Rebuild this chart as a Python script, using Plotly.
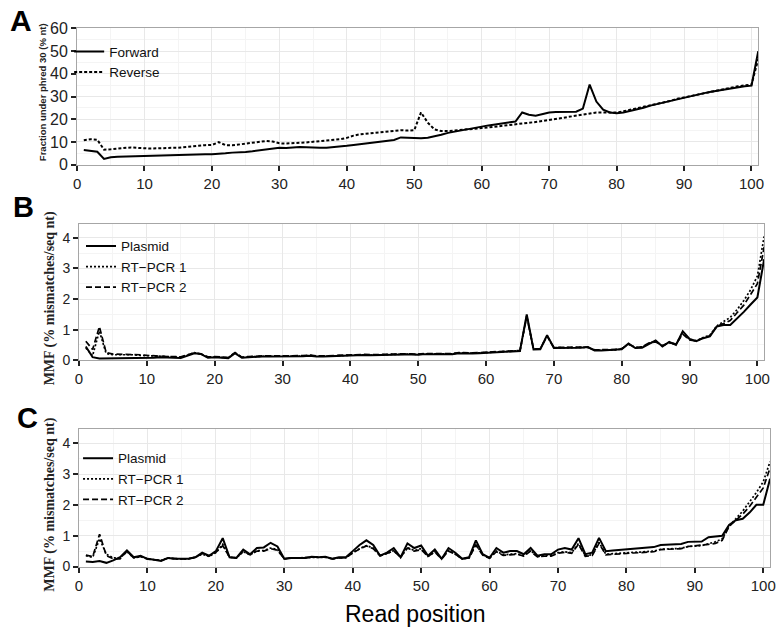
import plotly.graph_objects as go

pos = list(range(1, 102))

# Panel A: fraction under phred 30 (% nt)
forward = [6.5, 6.0, 5.7, 2.5, 3.3, 3.5, 3.6, 3.7, 3.8, 3.9,
           4.0, 4.1, 4.2, 4.3, 4.4, 4.6, 4.7, 4.7, 4.6, 4.6,
           4.7, 5.0, 5.3, 5.3, 5.6, 5.9, 6.2, 6.6, 7.0, 7.4,
           7.3, 7.6, 7.8, 7.7, 7.4, 7.4, 7.5, 7.7, 7.9, 8.3,
           8.7, 9.1, 9.4, 9.7, 10.0, 10.4, 10.9, 12.0, 11.8, 11.6,
           11.6, 11.9, 12.4, 13.2, 14.0, 14.6, 15.2, 15.7, 16.3, 16.9,
           17.3, 17.7, 18.1, 18.5, 19.0, 23.0, 22.0, 21.6, 22.3, 23.0,
           23.2, 23.2, 23.2, 23.3, 24.7, 35.3, 27.8, 24.2, 23.0, 22.6,
           23.0, 23.6, 24.3, 25.1, 26.0, 26.7, 27.3, 28.0, 29.0, 29.7,
           30.1, 30.8, 31.5, 32.1, 32.6, 33.2, 33.7, 34.1, 34.5, 34.8, 50.0]
reverse = [10.8, 11.2, 11.0, 6.6, 6.8, 7.1, 7.4, 7.6, 7.4, 7.2,
           7.1, 7.2, 7.4, 7.4, 7.4, 7.6, 8.0, 8.3, 8.6, 8.7,
           9.9, 8.6, 8.5, 8.9, 9.3, 9.7, 10.0, 10.4, 10.2, 9.4,
           9.3, 9.4, 9.6, 9.8, 10.1, 10.3, 10.5, 10.9, 11.2, 11.8,
           12.8, 13.4, 13.7, 13.8, 14.0, 14.3, 14.7, 15.2, 15.0, 15.2,
           23.0, 18.5, 15.5, 14.8, 14.8, 15.0, 15.3, 15.6, 15.8, 16.1,
           16.4, 16.7, 17.0, 17.3, 17.6, 18.0, 18.4, 18.8, 19.2, 19.7,
           20.1, 20.6, 21.0, 21.5, 21.9, 22.6, 23.0, 23.0, 23.0, 23.0,
           23.5, 24.0, 24.8, 25.5, 26.1, 26.8, 27.5, 28.1, 29.0, 29.6,
           30.2, 30.9, 31.6, 32.3, 32.9, 33.5, 34.1, 34.5, 34.9, 35.3, 46.5]

# Panel B: MMF
b_plasmid = [0.45, 0.10, 0.06, 0.06, 0.06, 0.06, 0.07, 0.07, 0.07, 0.08,
             0.08, 0.10, 0.10, 0.08, 0.07, 0.15, 0.23, 0.20, 0.08, 0.10,
             0.08, 0.07, 0.23, 0.08, 0.10, 0.12, 0.12, 0.12, 0.12, 0.12,
             0.13, 0.13, 0.13, 0.15, 0.12, 0.12, 0.13, 0.13, 0.14, 0.15,
             0.17, 0.17, 0.16, 0.17, 0.18, 0.18, 0.19, 0.19, 0.19, 0.18,
             0.20, 0.20, 0.20, 0.19, 0.20, 0.23, 0.22, 0.22, 0.23, 0.24,
             0.25, 0.26, 0.27, 0.28, 0.30, 1.50, 0.35, 0.36, 0.82, 0.40,
             0.40, 0.40, 0.41, 0.41, 0.43, 0.32, 0.32, 0.33, 0.33, 0.36,
             0.55, 0.40, 0.41, 0.52, 0.65, 0.45, 0.60, 0.50, 0.95, 0.70,
             0.62, 0.72, 0.78, 1.10, 1.15, 1.15, 1.35, 1.58, 1.82, 2.05, 3.30]
b_rt1 = [0.40, 0.15, 0.95, 0.22, 0.18, 0.18, 0.20, 0.18, 0.16, 0.15,
         0.13, 0.12, 0.12, 0.11, 0.10, 0.17, 0.25, 0.20, 0.10, 0.11,
         0.09, 0.08, 0.24, 0.09, 0.11, 0.13, 0.13, 0.13, 0.13, 0.13,
         0.14, 0.14, 0.14, 0.16, 0.13, 0.13, 0.14, 0.14, 0.15, 0.16,
         0.18, 0.18, 0.17, 0.18, 0.19, 0.19, 0.20, 0.20, 0.20, 0.19,
         0.21, 0.21, 0.21, 0.20, 0.21, 0.24, 0.23, 0.23, 0.24, 0.25,
         0.26, 0.27, 0.28, 0.29, 0.31, 1.45, 0.36, 0.37, 0.80, 0.41,
         0.41, 0.40, 0.41, 0.41, 0.42, 0.33, 0.33, 0.34, 0.34, 0.37,
         0.53, 0.41, 0.43, 0.55, 0.62, 0.47, 0.58, 0.52, 0.90, 0.68,
         0.64, 0.74, 0.82, 1.12, 1.25, 1.40, 1.65, 1.95, 2.30, 2.75, 4.05]
b_rt2 = [0.62, 0.35, 1.10, 0.25, 0.20, 0.20, 0.20, 0.20, 0.18, 0.16,
         0.14, 0.13, 0.12, 0.12, 0.11, 0.18, 0.24, 0.21, 0.11, 0.12,
         0.10, 0.09, 0.25, 0.10, 0.12, 0.14, 0.14, 0.14, 0.14, 0.14,
         0.15, 0.15, 0.15, 0.17, 0.14, 0.14, 0.15, 0.15, 0.16, 0.17,
         0.19, 0.19, 0.18, 0.19, 0.20, 0.20, 0.21, 0.21, 0.21, 0.20,
         0.22, 0.22, 0.22, 0.21, 0.22, 0.25, 0.24, 0.24, 0.25, 0.26,
         0.27, 0.28, 0.29, 0.30, 0.32, 1.42, 0.37, 0.38, 0.78, 0.42,
         0.42, 0.41, 0.42, 0.42, 0.43, 0.34, 0.34, 0.35, 0.35, 0.38,
         0.52, 0.42, 0.44, 0.56, 0.60, 0.48, 0.57, 0.53, 0.85, 0.66,
         0.63, 0.73, 0.80, 1.10, 1.20, 1.30, 1.55, 1.80, 2.15, 2.50, 3.70]

# Panel C: MMF
c_plasmid = [0.16, 0.15, 0.18, 0.12, 0.20, 0.30, 0.52, 0.30, 0.35, 0.25,
             0.22, 0.18, 0.28, 0.25, 0.25, 0.25, 0.30, 0.45, 0.35, 0.50,
             0.92, 0.30, 0.28, 0.55, 0.40, 0.60, 0.62, 0.77, 0.65, 0.25,
             0.28, 0.28, 0.28, 0.32, 0.30, 0.32, 0.25, 0.30, 0.30, 0.50,
             0.70, 0.85, 0.70, 0.35, 0.45, 0.60, 0.30, 0.75, 0.60, 0.68,
             0.35, 0.55, 0.25, 0.60, 0.45, 0.25, 0.30, 0.85, 0.40, 0.28,
             0.60, 0.45, 0.50, 0.50, 0.40, 0.60, 0.35, 0.40, 0.40, 0.55,
             0.60, 0.55, 0.92, 0.40, 0.45, 0.93, 0.50, 0.52, 0.54, 0.57,
             0.59, 0.60, 0.62, 0.63, 0.70, 0.71, 0.72, 0.73, 0.80, 0.81,
             0.81, 0.95, 0.97, 1.00, 1.35, 1.50, 1.55, 1.75, 2.00, 2.00, 2.85]
c_rt1 = [0.35, 0.30, 0.90, 0.40, 0.28, 0.28, 0.48, 0.28, 0.32, 0.25,
         0.22, 0.20, 0.28, 0.25, 0.25, 0.25, 0.30, 0.40, 0.33, 0.45,
         0.72, 0.30, 0.28, 0.48, 0.38, 0.52, 0.52, 0.60, 0.55, 0.25,
         0.28, 0.28, 0.28, 0.30, 0.30, 0.30, 0.25, 0.28, 0.28, 0.45,
         0.58, 0.68, 0.60, 0.35, 0.42, 0.52, 0.30, 0.62, 0.52, 0.58,
         0.33, 0.48, 0.25, 0.52, 0.40, 0.25, 0.28, 0.72, 0.38, 0.28,
         0.50, 0.38, 0.40, 0.42, 0.35, 0.52, 0.32, 0.36, 0.36, 0.45,
         0.48, 0.45, 0.75, 0.35, 0.38, 0.78, 0.40, 0.42, 0.43, 0.45,
         0.46, 0.47, 0.49, 0.50, 0.56, 0.57, 0.58, 0.59, 0.65, 0.67,
         0.68, 0.74, 0.80, 0.90, 1.30, 1.55, 1.80, 2.10, 2.40, 2.75, 3.40]
c_rt2 = [0.37, 0.32, 1.05, 0.35, 0.25, 0.25, 0.50, 0.28, 0.33, 0.24,
         0.22, 0.20, 0.27, 0.25, 0.25, 0.25, 0.30, 0.42, 0.34, 0.46,
         0.68, 0.30, 0.28, 0.50, 0.38, 0.50, 0.50, 0.58, 0.53, 0.25,
         0.28, 0.28, 0.28, 0.31, 0.30, 0.31, 0.25, 0.28, 0.29, 0.44,
         0.57, 0.67, 0.58, 0.35, 0.42, 0.50, 0.30, 0.60, 0.50, 0.55,
         0.33, 0.47, 0.25, 0.50, 0.40, 0.25, 0.28, 0.70, 0.37, 0.27,
         0.48, 0.36, 0.38, 0.40, 0.34, 0.50, 0.31, 0.34, 0.34, 0.43,
         0.46, 0.43, 0.72, 0.33, 0.36, 0.75, 0.38, 0.40, 0.41, 0.43,
         0.44, 0.45, 0.47, 0.48, 0.55, 0.56, 0.57, 0.58, 0.65, 0.67,
         0.68, 0.72, 0.75, 0.85, 1.30, 1.50, 1.70, 1.95, 2.25, 2.55, 3.20]

x_ticks = [0, 10, 20, 30, 40, 50, 60, 70, 80, 90, 100]
a_yticks = [0, 10, 20, 30, 40, 50, 60]
bc_yticks = [0, 1, 2, 3, 4]

W, H = 783, 631
SANS = "Liberation Sans, Arial, sans-serif"
SERIF = "Liberation Serif, Times New Roman, serif"

fig = go.Figure()

def add(x, y, name, dash, xa, ya, legend, width=2):
    fig.add_trace(go.Scatter(x=x, y=y, name=name, mode="lines",
                             line=dict(color="black", width=width, dash=dash),
                             xaxis=xa, yaxis=ya, legend=legend))

add(pos, forward, "Forward", "solid", "x", "y", "legend")
add(pos, reverse, "Reverse", "3px,2px", "x", "y", "legend")
add(pos, b_plasmid, "Plasmid", "solid", "x2", "y2", "legend2")
add(pos, b_rt1, "RT\u2212PCR 1", "2px,2px", "x2", "y2", "legend2", 1.7)
add(pos, b_rt2, "RT\u2212PCR 2", "6px,3px", "x2", "y2", "legend2", 1.7)
add(pos, c_plasmid, "Plasmid", "solid", "x3", "y3", "legend3")
add(pos, c_rt1, "RT\u2212PCR 1", "2px,2px", "x3", "y3", "legend3", 1.7)
add(pos, c_rt2, "RT\u2212PCR 2", "6px,3px", "x3", "y3", "legend3", 1.7)

def px_dom_x(l, r):
    return [l / W, r / W]

def px_dom_y(top, bottom):
    return [1 - bottom / H, 1 - top / H]

def xax(dom, anchor):
    return dict(domain=dom, anchor=anchor, range=[0, 101], tickvals=x_ticks,
                showgrid=True, gridcolor="#e8e8e8", gridwidth=1,
                minor=dict(dtick=5, tick0=0, showgrid=True, gridcolor="#f4f4f4", gridwidth=1),
                showline=True, mirror=True, linecolor="#a6a6a6", linewidth=1,
                ticks="outside", ticklen=5, tickwidth=2, tickcolor="#222",
                tickfont=dict(family=SANS, size=15, color="#222"), zeroline=False)

def yax(dom, anchor, rng, tv, minor, fs):
    return dict(domain=dom, anchor=anchor, range=rng, tickvals=tv,
                showgrid=True, gridcolor="#e8e8e8", gridwidth=1,
                minor=dict(dtick=minor, tick0=0, showgrid=True, gridcolor="#f4f4f4", gridwidth=1),
                showline=True, mirror=True, linecolor="#a6a6a6", linewidth=1,
                ticks="outside", ticklen=5, tickwidth=2, tickcolor="#222",
                tickfont=dict(family=SANS, size=fs, color="#222"), zeroline=False)

legfont = dict(family=SANS, size=13.5, color="#111")

fig.update_layout(
    width=W, height=H, margin=dict(l=0, r=0, t=0, b=0),
    paper_bgcolor="white", plot_bgcolor="white",
    xaxis=xax(px_dom_x(74, 764), "y"),
    yaxis=yax(px_dom_y(21, 161), "x", [0, 60], a_yticks, 5, 16),
    xaxis2=xax(px_dom_x(76, 770), "y2"),
    yaxis2=yax(px_dom_y(222, 362), "x2", [0, 4.45], bc_yticks, 0.5, 14),
    xaxis3=xax(px_dom_x(76, 776), "y3"),
    yaxis3=yax(px_dom_y(433, 574), "x3", [0, 4.45], bc_yticks, 0.5, 14),
    legend=dict(x=66 / W, y=1 - 29 / H, xanchor="left", yanchor="top",
                bgcolor="rgba(0,0,0,0)", font=legfont, itemwidth=30),
    legend2=dict(x=78 / W, y=1 - 229 / H, xanchor="left", yanchor="top",
                 bgcolor="rgba(0,0,0,0)", font=legfont, itemwidth=30),
    legend3=dict(x=75 / W, y=1 - 447 / H, xanchor="left", yanchor="top",
                 bgcolor="rgba(0,0,0,0)", font=legfont, itemwidth=30),
    showlegend=True,
)

ann = [
    dict(text="<b>A</b>", x=17 / W, y=1 - 13 / H, font=dict(family=SANS, size=30, color="black")),
    dict(text="<b>B</b>", x=20 / W, y=1 - 204 / H, font=dict(family=SANS, size=29, color="black")),
    dict(text="<b>C</b>", x=24 / W, y=1 - 421 / H, font=dict(family=SANS, size=29, color="black")),
    dict(text="<b>Fraction under phred 30 (% nt)</b>", x=39 / W, y=1 - 87 / H, textangle=-90,
         font=dict(family=SANS, size=9.5, color="#222")),
    dict(text="<b>MMF (% mismatches/seq nt)</b>", x=47 / W, y=1 - 298 / H, textangle=-90,
         font=dict(family=SERIF, size=14, color="#222")),
    dict(text="<b>MMF (% mismatches/seq nt)</b>", x=47 / W, y=1 - 510 / H, textangle=-90,
         font=dict(family=SERIF, size=14, color="#222")),
]
for a in ann:
    a.update(xref="paper", yref="paper", showarrow=False, xanchor="center", yanchor="middle")
ann.append(dict(text="Read position", x=417 / W, y=0, xref="paper", yref="paper",
                showarrow=False, xanchor="center", yanchor="bottom", yshift=-7,
                font=dict(family=SANS, size=23, color="black")))
fig.update_layout(annotations=ann)

fig.write_html("out.html")
